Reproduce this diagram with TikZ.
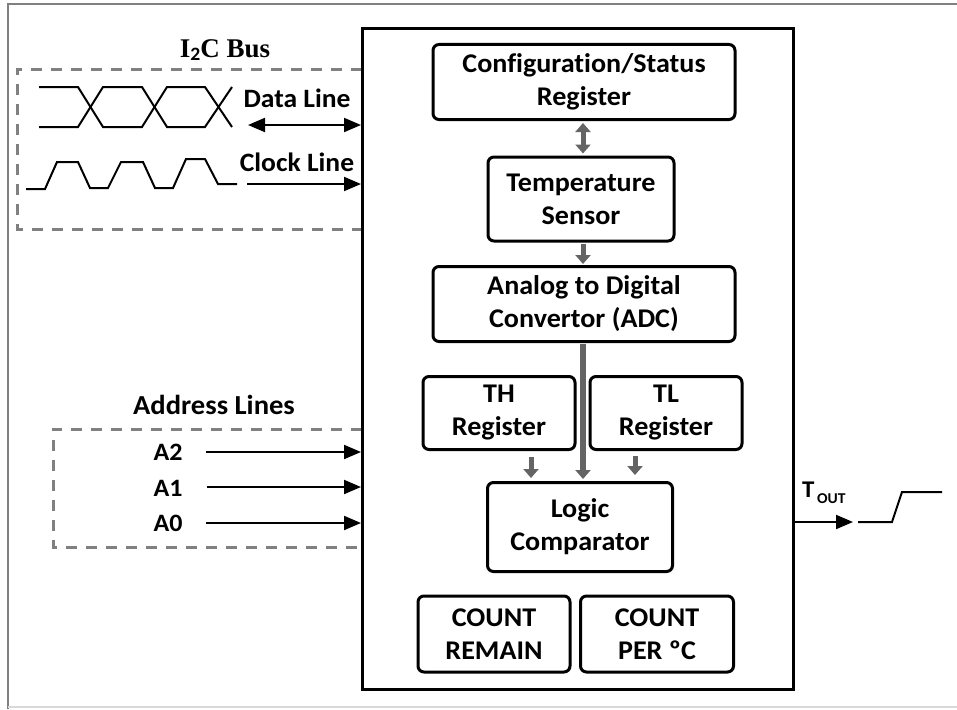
\documentclass[tikz,border=0pt]{standalone}
\usepackage{fontspec}
\setmainfont[Ligatures=NoCommon,FakeStretch=1.04]{Carlito}
\newfontfamily\serifbold{Liberation Serif}
\usetikzlibrary{arrows.meta,calc}
\definecolor{dashgray}{RGB}{128,128,128}
\definecolor{arrgray}{RGB}{100,100,100}
\tikzset{
  blockbox/.style={draw=black, line width=3pt, rounded corners=6pt, align=center,
    font=\fontsize{27}{33}\selectfont\bfseries, inner sep=0pt},
  chipbox/.style={draw=black, line width=3pt, inner sep=0pt},
  dashbox/.style={draw=dashgray, line width=3pt, dash pattern=on 11pt off 9pt},
  garrow/.style={draw=arrgray, line width=5pt, -{Triangle[length=9pt,width=15pt]}},
  gdarrow/.style={draw=arrgray, line width=5pt, {Triangle[length=9pt,width=15pt]}-{Triangle[length=9pt,width=15pt]}},
  barrow/.style={draw=black, line width=2pt, -{Triangle[length=17pt,width=14pt]}},
  bdarrow/.style={draw=black, line width=2pt, {Triangle[length=17pt,width=14pt]}-{Triangle[length=17pt,width=14pt]}},
  wave/.style={draw=black, line width=2pt, line join=miter},
  lbl/.style={font=\fontsize{26.5}{30}\selectfont\bfseries, inner sep=0pt},
  albl/.style={font=\fontsize{25}{28}\selectfont\bfseries, inner sep=0pt},
}
\begin{document}
\begin{tikzpicture}[x=1pt,y=-1pt]
\useasboundingbox (0,0) rectangle (957,709);
% outer frame
\draw[dashgray, line width=2pt] (8,709) -- (8,4) -- (957,4);
\draw[black!15, line width=1.5pt] (8,707) -- (957,707);
% dashed groups
\draw[dashbox] (362,69) -- (17,69) -- (17,229) -- (362,229);
\draw[dashbox] (362,429) -- (53,429) -- (53,547) -- (362,547);
% chip
\node[chipbox, minimum width=431, minimum height=660] (chip) at (578,359) {};
% blocks
\node[blockbox, minimum width=302, minimum height=75] (cfg) at (584,82) {Configuration/Status\\Register};
\node[blockbox, minimum width=186, minimum height=84] (temp) at (581,199) {Temperature\\Sensor};
\node[blockbox, minimum width=302, minimum height=75] (adc) at (584,304) {Analog to Digital\\Convertor (ADC)};
\node[blockbox, minimum width=152, minimum height=73] (th) at (499,413) {TH\\Register};
\node[blockbox, minimum width=152, minimum height=73] (tl) at (666,413) {TL\\Register};
\node[blockbox, minimum width=185, minimum height=89] (logic) at (580,527) {Logic\\Comparator};
\node[blockbox, minimum width=152, minimum height=76] (crem) at (494,634) {COUNT\\REMAIN};
\node[blockbox, minimum width=153, minimum height=76] (cper) at (657,634) {COUNT\\PER ºC};
% gray internal arrows
\coordinate (cx) at (583,0);
\draw[gdarrow, shorten <=2pt, shorten >=2pt] (cx |- cfg.south) -- (cx |- temp.north);
\draw[garrow, shorten <=1pt, shorten >=1pt] (cx |- temp.south) -- (cx |- adc.north);
\draw[garrow, line width=6pt, shorten <=1pt, shorten >=2pt] (cx |- adc.south) -- (cx |- logic.north);
\coordinate (thx) at (531,0);
\coordinate (tlx) at (635,0);
\draw[garrow, shorten <=6pt, shorten >=3pt] (thx |- th.south) -- (thx |- logic.north);
\draw[garrow, shorten <=5pt, shorten >=6pt] (tlx |- tl.south) -- (tlx |- logic.north);
% I2C bus
\node[font=\serifbold\fontsize{27}{30}\selectfont\bfseries, inner sep=0pt] (i2c) at (225,50) {I$_{\mathbf 2}$C Bus};
% data waveform
\draw[wave] (39,87) -- (78,87) -- (103,127) -- (142,127) -- (167,87) -- (205,87) -- (232,127);
\draw[wave] (39,127) -- (78,127) -- (103,87) -- (142,87) -- (167,127) -- (205,127) -- (232,87);
\node[lbl] (dlbl) at (297,98) {Data Line};
\coordinate (dl) at (248,125);
\draw[bdarrow] (dl) -- (chip.west |- dl);
% clock waveform
\draw[wave] (26,189) -- (45,189) -- (57,162) -- (78,162) -- (90,188) -- (108,188) -- (121,162) -- (143,162) -- (155,188) -- (173,188) -- (186,159) -- (205,159) -- (218,184) -- (237,184);
\node[lbl] (clbl) at (297,162) {Clock Line};
\coordinate (cl) at (247,184);
\draw[barrow] (cl) -- (chip.west |- cl);
% address lines
\node[lbl, font=\fontsize{27.5}{30}\selectfont\bfseries] (alines) at (214,405) {Address Lines};
\node[albl] (a2) at (168,452) {A2};
\node[albl] (a1) at (168,488) {A1};
\node[albl] (a0) at (168,523) {A0};
\coordinate (a2s) at (206,452);
\coordinate (a1s) at (207,487);
\coordinate (a0s) at (206,523);
\draw[barrow] (a2s) -- (chip.west |- a2s);
\draw[barrow] (a1s) -- (chip.west |- a1s);
\draw[barrow] (a0s) -- (chip.west |- a0s);
% T_OUT
\coordinate (tout) at (853,522);
\draw[barrow] (chip.east |- tout) -- (tout);
\node[font=\fontsize{24}{26}\selectfont\bfseries, inner sep=0pt, anchor=base west] (tlbl) at (802,497) {T\raisebox{-6pt}{\fontsize{15}{16}\selectfont\,OUT}};
\draw[wave] (858,522) -- (892,522) -- (902,492) -- (942,492);
\end{tikzpicture}
\end{document}
